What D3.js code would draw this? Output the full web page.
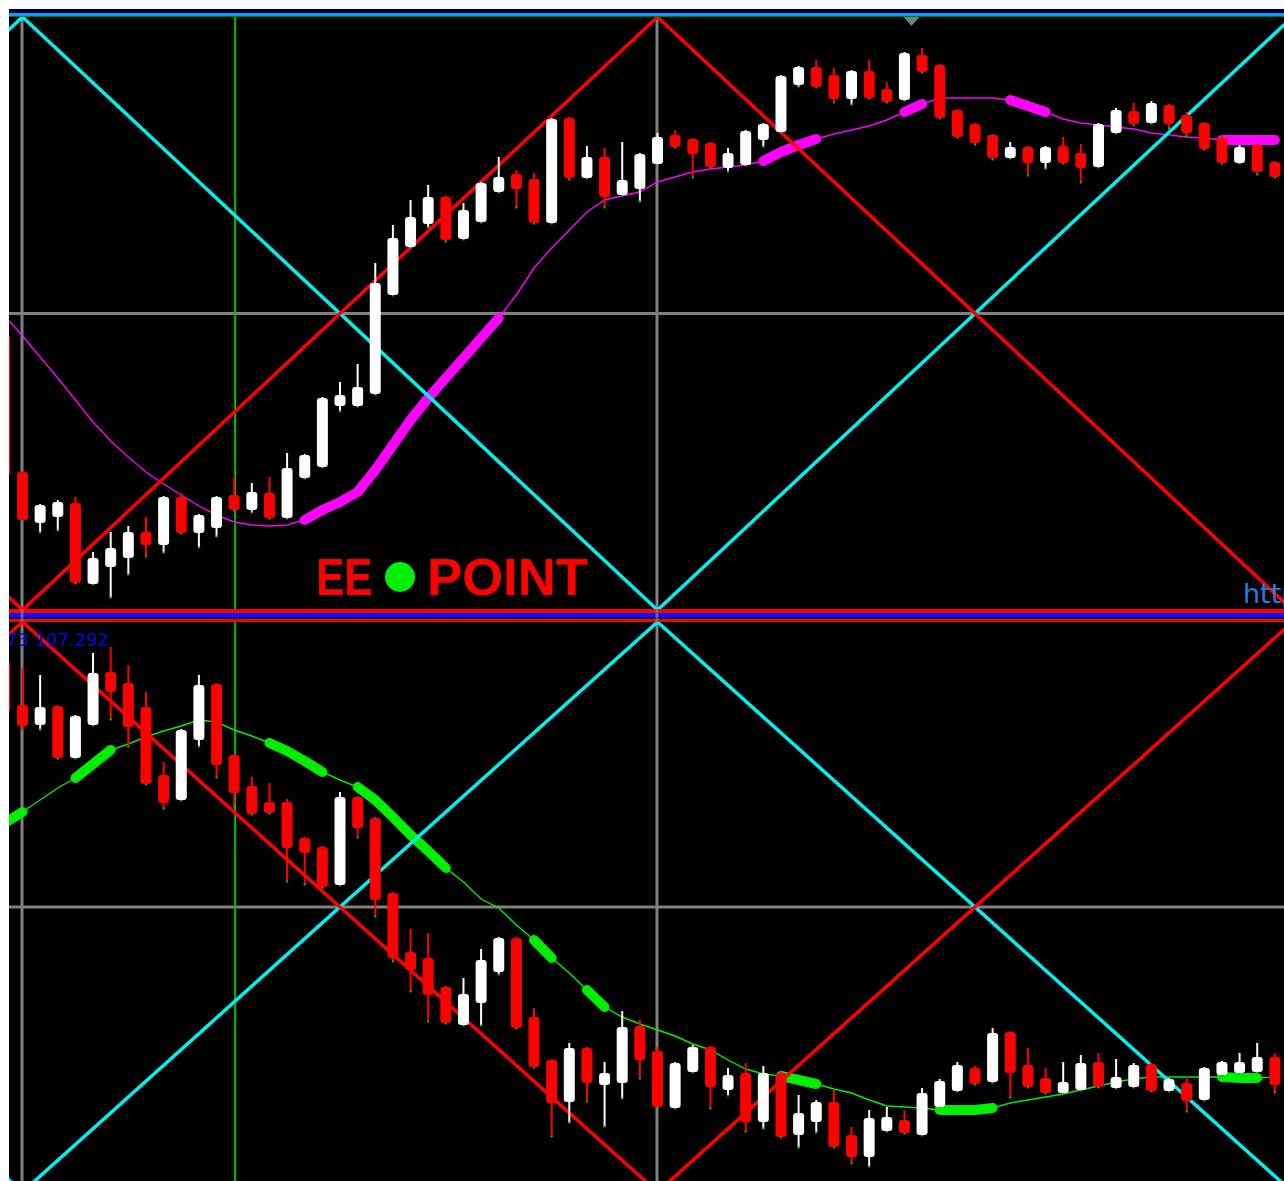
<!DOCTYPE html>
<html lang="en">
<head>
<meta charset="UTF-8">
<title>EE POINT</title>
<style>
    body { margin: 0; background: #fff; }
    svg { display: block; }
</style>
</head>
<body>
<div id="chart"></div>
<script src="https://d3js.org/d3.v7.min.js"></script>
<script>
// bar index of the first (partly hidden) candle on the left edge
var firstIdx = -1;

// upper panel (price in points)
var upperOpen  = [275,138,87,93,107,26,43,52,78,65,113,77,82,115,100,117,92,132,143,204,204,216,315,363,386,413,371,388,418,436,431,387,492,432,453,415,421,446,475,471,467,442,445,470,478,525,543,535,511,539,521,510,555,545,500,486,475,452,463,447,464,457,443,477,499,487,505,495,487,472,447,465,448];
var upperHigh  = [277,139,106,110,113,58,78,84,93,114,117,96,114,133,127,133,157,156,213,228,246,347,385,410,425,414,407,428,453,440,437,492,493,464,462,468,457,477,480,472,468,462,480,487,535,544,550,542,540,550,528,558,562,546,501,487,476,468,464,464,473,466,487,502,507,509,506,498,488,475,465,466,449];
var upperLow   = [133,89,77,79,26,25,12,35,53,57,76,62,73,99,97,91,91,131,142,198,203,215,314,362,382,368,370,387,417,402,386,386,430,431,402,414,408,445,462,432,442,438,444,463,477,523,522,507,505,511,507,509,537,491,472,465,450,451,434,441,446,427,442,476,484,486,481,473,460,446,446,435,432];
var upperClose = [135,90,105,108,27,52,62,78,65,113,77,95,113,100,118,92,142,155,212,215,223,327,372,393,413,370,400,427,433,421,387,491,432,453,413,430,456,473,463,456,443,457,479,486,534,543,523,511,539,512,508,557,538,492,473,467,452,463,447,463,447,442,486,500,486,507,486,477,461,447,463,438,433];
var upperMa    = [294,274,253,232,210,188,169,153,138,126,115,104,95,88,85,84,85,90,100,108,118,140,165,190,212,232,252,272,292,315,342,362,380,398,410,414,418,428,433,438,441,443,445,449,458,465,471,476,480,484,490,498,506,512,512,512,512,510,504,498,491,487,485,483,481,477,475,473,472,470,470,470,470];
var upperThick = [[16,27],[42,45],[50,51],[56,58],[68,71]];

// lower panel (price in points)
var lowerOpen  = [530,487,467,486,434,467,520,509,485,417,392,452,508,437,406,390,390,354,345,307,395,374,299,240,234,205,167,189,220,254,175,132,90,144,107,109,166,141,84,120,145,102,119,70,119,57,70,90,57,35,61,72,57,85,101,124,110,160,127,114,99,102,130,104,105,128,101,109,92,117,119,120,135];
var lowerHigh  = [532,524,517,487,477,539,545,527,500,430,463,517,509,438,415,409,393,355,346,400,396,375,300,263,259,206,214,243,255,255,184,133,149,145,130,181,172,145,130,147,146,124,129,126,120,97,92,102,65,82,85,82,104,113,130,126,164,161,144,124,130,137,139,133,129,129,114,115,125,131,139,149,139];
var lowerLow   = [478,460,462,433,433,466,472,445,407,383,391,445,414,385,377,378,310,307,304,306,354,275,230,200,170,168,166,166,217,163,124,55,69,90,65,93,113,84,83,119,83,96,60,63,54,44,59,44,28,25,60,58,56,84,100,107,109,94,104,98,98,101,104,103,104,100,100,80,91,116,118,119,99];
var lowerClose = [480,466,485,434,476,519,500,465,408,389,462,507,427,399,378,379,344,339,305,395,364,292,234,222,197,169,198,232,254,164,125,89,144,109,119,165,132,85,129,145,105,117,70,119,55,79,90,45,35,74,75,59,99,111,127,108,159,119,105,99,110,129,105,115,127,101,113,91,124,130,130,135,107];
var lowerMa    = [369,380,392,404,414,428,442,448,455,461,466,472,470,462,456,449,441,431,420,412,405,392,375,357,341,324,310,293,284,267,252,234,219,202,185,175,168,162,156,148,142,132,123,118,116,112,108,103,99,92,86,85,84,82,82,82,84,89,92,95,98,102,106,110,113,115,115,115,115,115,114,114,115];
var lowerThick = [[-1,0],[3,5],[14,17],[19,24],[29,30],[32,33],[43,45],[52,55],[68,70]];

// cross lines: turning points (bar index) and levels
var diagIdx = [-36, 0, 36, 72];
var upperRedLevels  = [593, 0, 593, 0];
var upperCyanLevels = [0, 593, 0, 593];
var lowerRedLevels  = [0, 570, 0, 570];
var lowerCyanLevels = [570, 0, 570, 0];

var gridIdx = [0, 36];
var vlineIdx = 12;
var markerIdx = 50.4;
var priceLabel = "73 107.292";

var W = 1284, H = 1181;

var svg = d3.select("#chart").append("svg")
    .attr("width", W)
    .attr("height", H);

svg.append("rect").attr("width", W).attr("height", H).attr("fill", "#fff");
svg.append("rect").attr("x", 9).attr("y", 9)
    .attr("width", W - 9).attr("height", H - 9).attr("fill", "#000");

var x = d3.scaleLinear().domain([0, 36]).range([22.5, 657.5]);
var yUp = d3.scaleLinear().domain([0, 593]).range([610, 17]);
var yLo = d3.scaleLinear().domain([0, 570]).range([1192, 622]);

var defs = svg.append("defs");
defs.append("clipPath").attr("id", "clipUp")
    .append("rect").attr("x", 9).attr("y", 17).attr("width", W - 9).attr("height", 592);
defs.append("clipPath").attr("id", "clipLo")
    .append("rect").attr("x", 9).attr("y", 622).attr("width", W - 9).attr("height", H - 622);

function makeRows(o, h, l, c, ma) {
    return o.map(function(d, k) {
        return {i: k + firstIdx, o: d, h: h[k], l: l[k], c: c[k], ma: ma[k]};
    });
}

function drawPanel(clipId, y, rows, thick, maColor, redLv, cyanLv) {
    var g = svg.append("g").attr("clip-path", "url(#" + clipId + ")");
    var dom = y.domain(), rng = y.range();

    // grid
    g.append("line")
        .attr("x1", 9).attr("x2", W)
        .attr("y1", y((dom[0] + dom[1]) / 2)).attr("y2", y((dom[0] + dom[1]) / 2))
        .attr("stroke", "#808080").attr("stroke-width", 3);
    g.selectAll(".vgrid").data(gridIdx).enter().append("line")
        .attr("x1", function(d) { return x(d) - 0.5; })
        .attr("x2", function(d) { return x(d) - 0.5; })
        .attr("y1", rng[1]).attr("y2", rng[0])
        .attr("stroke", "#808080").attr("stroke-width", 3);

    g.append("line")
        .attr("x1", x(vlineIdx) + 1).attr("x2", x(vlineIdx) + 1)
        .attr("y1", rng[1]).attr("y2", rng[0])
        .attr("stroke", "#00c000").attr("stroke-width", 2);

    // moving average
    var maLine = d3.line()
        .x(function(d) { return x(d.i); })
        .y(function(d) { return y(d.ma); });

    g.append("path").datum(rows)
        .attr("d", maLine)
        .attr("fill", "none").attr("stroke", maColor).attr("stroke-width", 1.4);

    thick.forEach(function(t) {
        var seg = rows.filter(function(d) { return d.i >= t[0] && d.i <= t[1]; });
        g.append("path").datum(seg)
            .attr("d", maLine)
            .attr("fill", "none").attr("stroke", maColor)
            .attr("stroke-width", 10).attr("stroke-linecap", "round")
            .attr("stroke-linejoin", "round");
    });

    // cross lines
    var diag = d3.line()
        .x(function(d) { return x(d[0]); })
        .y(function(d) { return y(d[1]); });
    g.append("path").datum(d3.zip(diagIdx, cyanLv))
        .attr("d", diag).attr("fill", "none")
        .attr("stroke", "#00f0f0").attr("stroke-width", 3.5);
    g.append("path").datum(d3.zip(diagIdx, redLv))
        .attr("d", diag).attr("fill", "none")
        .attr("stroke", "#ff0000").attr("stroke-width", 3.5);

    // candles
    var candle = g.selectAll(".candle").data(rows).enter().append("g");
    function col(d) { return d.c > d.o ? "#ffffff" : "#ff0000"; }

    candle.append("line")
        .attr("x1", function(d) { return x(d.i); })
        .attr("x2", function(d) { return x(d.i); })
        .attr("y1", function(d) { return y(d.h); })
        .attr("y2", function(d) { return y(d.l); })
        .attr("stroke", col).attr("stroke-width", 2);

    candle.append("rect")
        .attr("x", function(d) { return x(d.i) - 1; })
        .attr("y", function(d) { return y(d.l) - 1.5; })
        .attr("width", 2).attr("height", 2)
        .attr("fill", "#00c000");

    candle.append("rect")
        .attr("x", function(d) { return x(d.i) - 5.5; })
        .attr("y", function(d) { return y(Math.max(d.o, d.c)); })
        .attr("width", 11)
        .attr("height", function(d) { return Math.max(Math.abs(y(d.o) - y(d.c)), 3); })
        .attr("rx", 3).attr("ry", 3)
        .attr("fill", col);

    return g;
}

drawPanel("clipUp", yUp,
    makeRows(upperOpen, upperHigh, upperLow, upperClose, upperMa),
    upperThick, "#ff00ff", upperRedLevels, upperCyanLevels);

var lower = drawPanel("clipLo", yLo,
    makeRows(lowerOpen, lowerHigh, lowerLow, lowerClose, lowerMa),
    lowerThick, "#00ee00", lowerRedLevels, lowerCyanLevels);

// top border
svg.append("rect").attr("x", 9).attr("y", 9).attr("width", W - 9).attr("height", 4).attr("fill", "#000030");
svg.append("rect").attr("x", 9).attr("y", 13).attr("width", W - 9).attr("height", 3).attr("fill", "#0a9cff");
svg.append("rect").attr("x", 9).attr("y", 16).attr("width", W - 9).attr("height", 1).attr("fill", "#008000");

// panel separator
svg.append("rect").attr("x", 9).attr("y", 609).attr("width", W - 9).attr("height", 4).attr("fill", "#ff0000");
svg.append("rect").attr("x", 9).attr("y", 613).attr("width", W - 9).attr("height", 4).attr("fill", "#1010ff");
svg.append("rect").attr("x", 9).attr("y", 617).attr("width", W - 9).attr("height", 2).attr("fill", "#00007a");
svg.append("rect").attr("x", 9).attr("y", 619).attr("width", W - 9).attr("height", 3).attr("fill", "#ff0000");
gridIdx.forEach(function(d) {
    svg.append("line")
        .attr("x1", x(d) - 0.5).attr("x2", x(d) - 0.5)
        .attr("y1", 609).attr("y2", 622)
        .attr("stroke", "#808080").attr("stroke-opacity", 0.7).attr("stroke-width", 3);
});

// shift marker
var mx = x(markerIdx);
svg.append("path")
    .attr("d", "M" + (mx - 8) + ",17L" + (mx + 8) + ",17L" + mx + ",26Z")
    .attr("fill", "#6f7f8f");

// texts
lower.append("text")
    .attr("x", 6).attr("y", 646)
    .attr("font-family", "DejaVu Sans, sans-serif")
    .attr("font-size", 18)
    .attr("fill", "#0808d8")
    .text(priceLabel);

svg.append("text")
    .attr("x", 1243).attr("y", 603)
    .attr("font-family", "DejaVu Sans, sans-serif")
    .attr("font-size", 27)
    .attr("fill", "#1e82e6")
    .text("http://");

svg.append("text")
    .attr("x", 316).attr("y", 595)
    .attr("font-family", "Liberation Sans, Arial, sans-serif")
    .attr("font-weight", "bold").attr("font-size", 51)
    .attr("textLength", 56).attr("lengthAdjust", "spacingAndGlyphs")
    .attr("fill", "#ff0000")
    .text("EE");
svg.append("circle")
    .attr("cx", 400).attr("cy", 577).attr("r", 15)
    .attr("fill", "#00f000");
svg.append("text")
    .attr("x", 427).attr("y", 595)
    .attr("font-family", "Liberation Sans, Arial, sans-serif")
    .attr("font-weight", "bold").attr("font-size", 51)
    .attr("textLength", 161).attr("lengthAdjust", "spacingAndGlyphs")
    .attr("fill", "#ff0000")
    .text("POINT");
</script>
</body>
</html>
